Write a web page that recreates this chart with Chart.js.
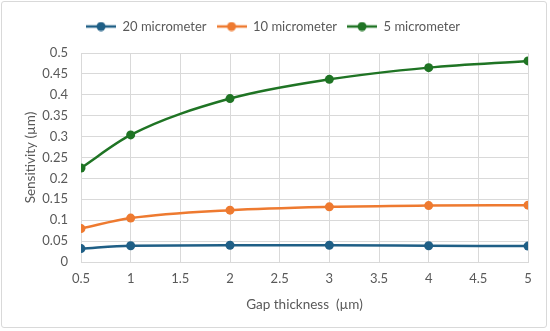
<!DOCTYPE html>
<html>
<head>
<meta charset="utf-8">
<script src="https://cdn.jsdelivr.net/npm/chart.js@4/dist/chart.umd.min.js"></script>
<style>
  html, body { margin: 0; padding: 0; background: #fff; }
  .frame { position: absolute; left: 1px; top: 1px; width: 546px; height: 327px;
           border: 1px solid #d9d9d9; border-radius: 3px; box-sizing: border-box; }
  .wrap { position: absolute; left: 0; top: 0; width: 550px; height: 331px; }
</style>
</head>
<body>
<div class="frame"></div>
<div class="wrap"><canvas id="chart"></canvas></div>
<script>
// Data
const gapThickness = [0.5, 1, 2, 3, 4, 5];
const sens20 = [0.032, 0.039, 0.040, 0.040, 0.039, 0.038];
const sens10 = [0.080, 0.105, 0.124, 0.132, 0.135, 0.136];
const sens5 = [0.225, 0.304, 0.391, 0.437, 0.465, 0.481];
const seriesNames = ['20 micrometer', '10 micrometer', '5 micrometer'];
const seriesColors = ['#1f5f86', '#ee7a30', '#1f7424'];

const fontFamily = "Lato, 'Open Sans', sans-serif";
const textColor = '#595959';
const gridColor = '#d9d9d9';

// legend icon: short line with a circle marker
function legendIcon(color) {
  const c = document.createElement('canvas');
  c.width = 30; c.height = 10;
  const g = c.getContext('2d');
  g.strokeStyle = color;
  g.lineWidth = 2.5;
  g.beginPath(); g.moveTo(0, 5); g.lineTo(30, 5); g.stroke();
  g.fillStyle = color;
  g.beginPath(); g.arc(15, 5, 4.5, 0, Math.PI * 2); g.fill();
  return c;
}

const toPoints = (ys) => gapThickness.map((x, i) => ({ x: x, y: ys[i] }));

const datasets = [sens20, sens10, sens5].map((ys, i) => ({
  label: seriesNames[i],
  data: toPoints(ys),
  borderColor: seriesColors[i],
  backgroundColor: seriesColors[i],
  borderWidth: 2.5,
  pointRadius: 4.5,
  pointHoverRadius: 4.5,
  pointBorderWidth: 0,
  tension: 0.4,
  cubicInterpolationMode: 'monotone'
}));

// extra space under the legend
const legendMargin = {
  id: 'legendMargin',
  beforeInit(chart) {
    const fit = chart.legend.fit;
    chart.legend.fit = function () {
      fit.call(this);
      this.height += 10;
    };
  }
};

new Chart(document.getElementById('chart').getContext('2d'), {
  type: 'line',
  data: { datasets: datasets },
  plugins: [legendMargin],
  options: {
    responsive: true,
    maintainAspectRatio: false,
    animation: false,
    layout: { padding: { left: 18, right: 22, top: 10, bottom: 18 } },
    plugins: {
      legend: {
        position: 'top',
        labels: {
          color: textColor,
          font: { family: fontFamily, size: 13 },
          usePointStyle: true,
          pointStyleWidth: 30,
          padding: 10,
          generateLabels: (chart) => chart.data.datasets.map((ds, i) => ({
            text: ds.label,
            fillStyle: ds.borderColor,
            strokeStyle: ds.borderColor,
            fontColor: textColor,
            pointStyle: legendIcon(ds.borderColor),
            datasetIndex: i,
            lineWidth: 0
          }))
        }
      },
      tooltip: { enabled: false }
    },
    scales: {
      x: {
        type: 'linear',
        min: 0.5,
        max: 5,
        afterFit: (scale) => { scale.height = 51; },
        ticks: {
          stepSize: 0.5,
          color: textColor,
          font: { family: fontFamily, size: 13 },
          padding: 9,
          callback: (v) => String(Math.round(v * 10) / 10)
        },
        grid: { color: gridColor, drawTicks: false },
        border: { color: gridColor },
        title: {
          display: true,
          text: 'Gap thickness  (µm)',
          color: textColor,
          font: { family: fontFamily, size: 13.5 },
          padding: { top: 0, bottom: 0 }
        }
      },
      y: {
        min: 0,
        max: 0.5,
        afterFit: (scale) => { scale.width = 63; },
        ticks: {
          stepSize: 0.05,
          color: textColor,
          font: { family: fontFamily, size: 13 },
          padding: 13,
          callback: (v) => String(Math.round(v * 100) / 100)
        },
        grid: { color: gridColor, drawTicks: false },
        border: { color: gridColor },
        title: {
          display: true,
          text: 'Sensitivity (µm)',
          color: textColor,
          font: { family: fontFamily, size: 13.5 },
          padding: { top: 5, bottom: 0 }
        }
      }
    }
  }
});
</script>
</body>
</html>
